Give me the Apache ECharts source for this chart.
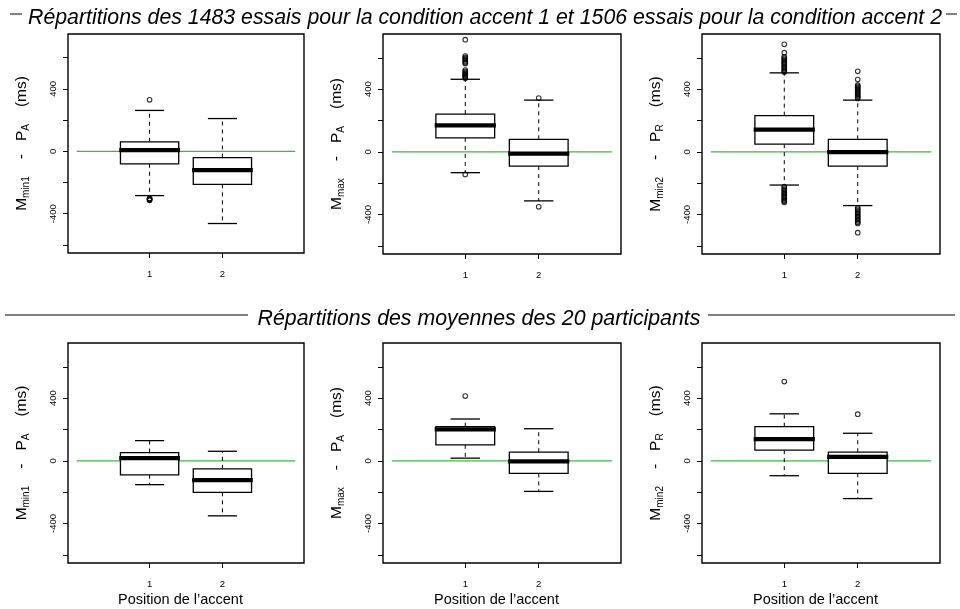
<!DOCTYPE html>
<html><head><meta charset="utf-8">
<script src="https://cdn.jsdelivr.net/npm/echarts@6/dist/echarts.min.js"></script>
<style>html,body{margin:0;padding:0;background:#fff}#c{width:960px;height:609px}</style>
</head><body><div id="c"></div>
<script>
// ---------- data ----------
const positions = [1, 2];
const xTickLabels = ['1', '2'];
const yTicks = [-600, -400, -200, 0, 200, 400, 600];
const yTickLabels = [-400, 0, 400];
const titleTop = 'Répartitions des 1483 essais pour la condition accent 1 et 1506 essais pour la condition accent 2';
const titleMid = 'Répartitions des moyennes des 20 participants';
const xName = 'Position de l’accent';

// [low whisker, Q1, median, Q3, high whisker] for accent positions 1 and 2
const essaisMmin1PA = [[-284, -80, 8, 61, 262], [-463, -212, -121, -40, 210]];
const essaisMmaxPA  = [[-133, 89, 169, 241, 463], [-313, -91, -11, 80, 330]];
const essaisMmin2PR = [[-212, 49, 142, 231, 504], [-343, -91, -2, 80, 330]];
const moyMmin1PA    = [[-152, -89, 17, 53, 129], [-351, -201, -123, -51, 61]];
const moyMmaxPA     = [[17, 102, 201, 218, 267], [-195, -80, -4, 55, 205]];
const moyMmin2PR    = [[-95, 68, 138, 218, 300], [-241, -80, 25, 55, 176]];

// outliers for accent positions 1 and 2
const essaisMmin1PAOut = [[330, -302, -305, -308, -311, -314], []];
const essaisMmaxPAOut  = [[716, 611, 603, 596, 588, 579, 570, 563, 522, 514, 507, 500, 494, 488, 481, 476, 470, -144], [343, -351]];
const essaisMmin2PROut = [[686, 633, 606, 597, 589, 580, 572, 563, 555, 546, 538, 530, 522, 515, 509,
                           -222, -231, -240, -249, -258, -266, -275, -283, -292, -300, -308, -315, -322],
                          [514, 461, 426, 419, 411, 404, 396, 388, 380, 372, 364, 356, 348, 341,
                           -357, -366, -376, -386, -395, -404, -413, -422, -431, -440, -449, -457, -516]];
const moyMmin1PAOut = [[], []];
const moyMmaxPAOut  = [[413], []];
const moyMmin2PROut = [[506], [298]];

const zeroLine = [[0, 0], [3, 0]];

// y-axis labels: [main, sub, main, sub]
const yNames = [
  ['M', 'min1', 'P', 'A'], ['M', 'max', 'P', 'A'], ['M', 'min2', 'P', 'R'],
  ['M', 'min1', 'P', 'A'], ['M', 'max', 'P', 'A'], ['M', 'min2', 'P', 'R']
];
const panelStats = [essaisMmin1PA, essaisMmaxPA, essaisMmin2PR, moyMmin1PA, moyMmaxPA, moyMmin2PR];
const panelOut = [essaisMmin1PAOut, essaisMmaxPAOut, essaisMmin2PROut, moyMmin1PAOut, moyMmaxPAOut, moyMmin2PROut];

// ---------- layout ----------
const FONT = 'Liberation Sans, Arial, Helvetica, sans-serif';
const gridRects = [
  {left: 68, top: 34, width: 236, height: 219},
  {left: 383, top: 34, width: 238, height: 220},
  {left: 702, top: 34, width: 238, height: 220},
  {left: 68, top: 343, width: 236, height: 220},
  {left: 383, top: 343, width: 238, height: 220},
  {left: 702, top: 343, width: 238, height: 220}
];

function renderBox(params, api) {
  const x = api.value(0), lo = api.value(1), q1 = api.value(2), md = api.value(3), q3 = api.value(4), hi = api.value(5);
  const P = (a, b) => api.coord([a, b]);
  const bw = 0.4, cw = 0.2;
  const pLo = P(x, lo), pQ1 = P(x, q1), pQ3 = P(x, q3), pHi = P(x, hi);
  const tl = P(x - bw, q3), br = P(x + bw, q1);
  const ml = P(x - bw, md), mr = P(x + bw, md);
  const cl = P(x - cw, hi), cr = P(x + cw, hi), dl = P(x - cw, lo), dr = P(x + cw, lo);
  const dash = {stroke: '#000', lineWidth: 1, lineDash: [4, 4], fill: null};
  const solid = {stroke: '#000', lineWidth: 1.3, fill: null};
  return {type: 'group', children: [
    {type: 'line', shape: {x1: pQ3[0], y1: pQ3[1], x2: pHi[0], y2: pHi[1]}, style: dash},
    {type: 'line', shape: {x1: pQ1[0], y1: pQ1[1], x2: pLo[0], y2: pLo[1]}, style: dash},
    {type: 'line', shape: {x1: cl[0], y1: cl[1], x2: cr[0], y2: cr[1]}, style: solid},
    {type: 'line', shape: {x1: dl[0], y1: dl[1], x2: dr[0], y2: dr[1]}, style: solid},
    {type: 'rect', shape: {x: tl[0], y: tl[1], width: br[0] - tl[0], height: br[1] - tl[1]},
      style: {fill: '#fff', stroke: '#000', lineWidth: 1.3}},
    {type: 'line', shape: {x1: ml[0] - 1.2, y1: ml[1], x2: mr[0] + 1.2, y2: mr[1]}, style: {stroke: '#000', lineWidth: 4.2}}
  ]};
}

const grid = [], xAxis = [], yAxis = [], series = [];
for (let i = 0; i < 6; i++) {
  grid.push(Object.assign({show: true, borderColor: '#000', borderWidth: 1.4, backgroundColor: 'transparent'}, gridRects[i]));
  const bottom = i >= 3;
  xAxis.push({
    type: 'value', gridIndex: i, min: -0.12, max: 3.12, position: 'bottom',
    axisLine: {show: false, onZero: false}, splitLine: {show: false},
    axisTick: {show: true, inside: false, length: 5, lineStyle: {color: '#000', width: 1}, customValues: positions},
    axisLabel: {show: true, customValues: positions, margin: 16, fontSize: 9.5, color: '#000', fontFamily: FONT,
      formatter: v => xTickLabels[positions.indexOf(v)]},
    name: bottom ? xName : '', nameLocation: 'middle', nameGap: 29, nameMoveOverlap: false,
    nameTextStyle: {fontSize: 14.5, color: '#000', fontFamily: FONT, padding: [0, 11, 0, 0]}
  });
  const n = yNames[i];
  yAxis.push({
    type: 'value', gridIndex: i, min: -652, max: 752, position: 'left',
    axisLine: {show: false, onZero: false}, splitLine: {show: false},
    axisTick: {show: true, inside: false, length: 5, lineStyle: {color: '#000', width: 1}, customValues: yTicks},
    axisLabel: {show: true, customValues: yTickLabels, rotate: 90, margin: 10, fontSize: 9.5, color: '#000', fontFamily: FONT},
    name: '{m|' + n[0] + '}{s|' + n[1] + '}{d|-}{m|' + n[2] + '}{s|' + n[3] + '}{p|(ms)}',
    nameLocation: 'middle', nameRotate: 90, nameGap: 37, nameMoveOverlap: false,
    nameTextStyle: {
      color: '#000', fontFamily: FONT,
      rich: {
        m: {fontSize: 15.5, lineHeight: 18, color: '#000', fontFamily: FONT},
        s: {fontSize: 10, lineHeight: 9, verticalAlign: 'bottom', color: '#000', fontFamily: FONT},
        d: {fontSize: 15.5, lineHeight: 18, padding: [0, 13, 0, 17], color: '#000', fontFamily: FONT},
        p: {fontSize: 15.5, lineHeight: 18, padding: [0, 0, 0, 17], color: '#000', fontFamily: FONT}
      }
    }
  });
  series.push({
    type: 'line', xAxisIndex: i, yAxisIndex: i, z: 1, data: zeroLine, symbol: 'none',
    lineStyle: {color: '#3cb93c', width: 1.2}
  });
  series.push({
    type: 'custom', xAxisIndex: i, yAxisIndex: i, renderItem: renderBox, z: 2,
    data: panelStats[i].map((s, k) => [positions[k]].concat(s))
  });
  const outPts = [];
  panelOut[i].forEach((arr, k) => arr.forEach(v => outPts.push([positions[k], v])));
  series.push({
    type: 'scatter', xAxisIndex: i, yAxisIndex: i, z: 3, symbol: 'circle', symbolSize: 4.6,
    itemStyle: {color: 'rgba(255,255,255,0)', borderColor: '#000', borderWidth: 1.1},
    data: outPts
  });
}

const option = {
  animation: false,
  backgroundColor: '#fff',
  title: [
    {text: titleTop, left: 480, top: 3, textAlign: 'center',
      textStyle: {fontSize: 21.3, fontStyle: 'italic', fontWeight: 'normal', color: '#000', fontFamily: FONT}},
    {text: titleMid, left: 474, top: 304, textAlign: 'center',
      textStyle: {fontSize: 21.3, fontStyle: 'italic', fontWeight: 'normal', color: '#000', fontFamily: FONT}}
  ],
  graphic: [
    {type: 'line', shape: {x1: 10, y1: 14, x2: 22, y2: 14}, style: {stroke: '#000', lineWidth: 1}},
    {type: 'line', shape: {x1: 946, y1: 14, x2: 957, y2: 14}, style: {stroke: '#000', lineWidth: 1}},
    {type: 'line', shape: {x1: 5, y1: 315, x2: 248, y2: 315}, style: {stroke: '#000', lineWidth: 1}},
    {type: 'line', shape: {x1: 708, y1: 315, x2: 955, y2: 315}, style: {stroke: '#000', lineWidth: 1}}
  ],
  grid, xAxis, yAxis, series
};
const chart = echarts.init(document.getElementById('c'), null, {renderer: 'canvas'});
chart.setOption(option);
</script></body></html>
